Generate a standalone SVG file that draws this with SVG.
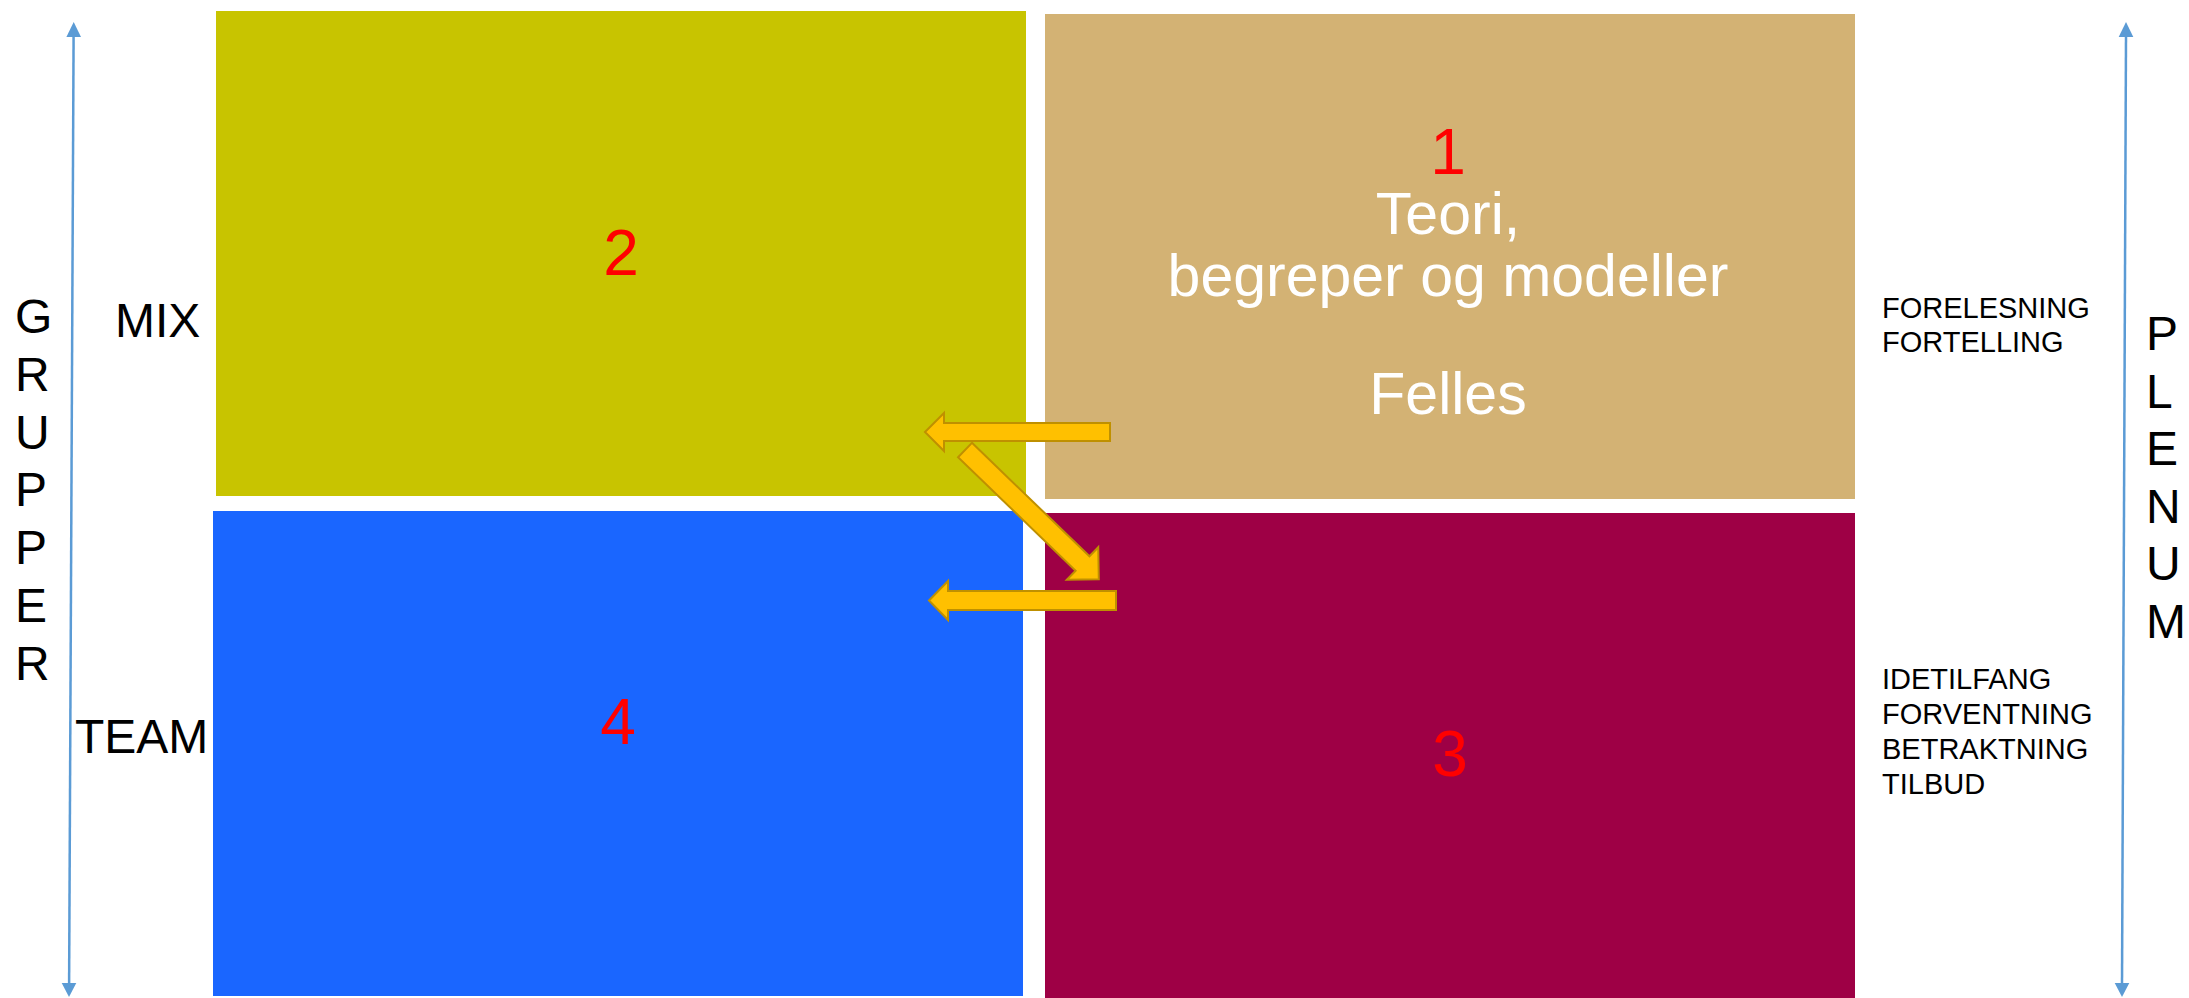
<svg xmlns="http://www.w3.org/2000/svg" width="2189" height="998" viewBox="0 0 2189 998">
<style>
.lbl{font-family:"Liberation Sans",Arial,sans-serif;fill:#000}
.big{font-size:48px}
.sm{font-size:29px}
.num{font-family:"Liberation Sans",Arial,sans-serif;font-size:64px;fill:#FF0000;text-anchor:middle}
.wt{font-family:"Liberation Sans",Arial,sans-serif;font-size:59px;fill:#FFFFFF;text-anchor:middle}
.arr{fill:#FFC000;stroke:#BF9000;stroke-width:2;stroke-linejoin:miter}
.axis{stroke:#5B9BD5;stroke-width:2.5;fill:none}
.ahead{fill:#5B9BD5}
</style>
<rect width="2189" height="998" fill="#FFFFFF"/>
<g id="node-2">
<rect x="216" y="11" width="810" height="485" fill="#C8C400"/>
<text class="num" x="621" y="275">2</text>
</g>
<g id="node-1">
<rect x="1045" y="14" width="810" height="485" fill="#D3B274"/>
<text class="num" x="1448" y="174">1</text>
<text class="wt" x="1448" y="234">Teori,</text>
<text class="wt" x="1448" y="296">begreper og modeller</text>
<text class="wt" x="1448" y="414">Felles</text>
</g>
<g id="node-4">
<rect x="213" y="511" width="810" height="485" fill="#1A66FF"/>
<text class="num" x="618" y="744">4</text>
</g>
<g id="node-3">
<rect x="1045" y="513" width="810" height="485" fill="#9E0045"/>
<text class="num" x="1450" y="776">3</text>
</g>
<g id="axis-grupper">
<line class="axis" x1="73.6" y1="35" x2="69.1" y2="985"/>
<polygon class="ahead" points="73.7,22 81,37 66.4,37"/>
<polygon class="ahead" points="69,997 61.7,983 76.3,983"/>
<text class="lbl big" x="15" y="333">G</text>
<text class="lbl big" x="15" y="390.8">R</text>
<text class="lbl big" x="15" y="448.6">U</text>
<text class="lbl big" x="15" y="506.4">P</text>
<text class="lbl big" x="15" y="564.2">P</text>
<text class="lbl big" x="15" y="622">E</text>
<text class="lbl big" x="15" y="679.8">R</text>
</g>
<g id="axis-plenum">
<line class="axis" x1="2126" y1="35" x2="2122" y2="985"/>
<polygon class="ahead" points="2126,22 2133.3,37 2118.7,37"/>
<polygon class="ahead" points="2122,997 2114.7,983 2129.3,983"/>
<text class="lbl big" x="2146" y="350">P</text>
<text class="lbl big" x="2146" y="407.6">L</text>
<text class="lbl big" x="2146" y="465.2">E</text>
<text class="lbl big" x="2146" y="522.8">N</text>
<text class="lbl big" x="2146" y="580.4">U</text>
<text class="lbl big" x="2146" y="638">M</text>
</g>
<g id="label-mix"><text class="lbl big" x="115" y="337">MIX</text></g>
<g id="label-team"><text class="lbl big" x="75" y="753">TEAM</text></g>
<g id="label-plenum-top">
<text class="lbl sm" x="1882" y="318">FORELESNING</text>
<text class="lbl sm" x="1882" y="352">FORTELLING</text>
</g>
<g id="label-plenum-bottom">
<text class="lbl sm" x="1882" y="689">IDETILFANG</text>
<text class="lbl sm" x="1882" y="724">FORVENTNING</text>
<text class="lbl sm" x="1882" y="759">BETRAKTNING</text>
<text class="lbl sm" x="1882" y="794">TILBUD</text>
</g>
<g id="connectors">
<polygon class="arr" points="925,432 944,413 944,423 1110,423 1110,441 944,441 944,451"/>
<polygon class="arr" transform="translate(965,450) rotate(44)" points="0,-10 163.4,-10 163.4,-22.6 186,0 163.4,22.6 163.4,10 0,10"/>
<polygon class="arr" points="929,600.5 948,581 948,591 1116,591 1116,610 948,610 948,620"/>
</g>
</svg>
